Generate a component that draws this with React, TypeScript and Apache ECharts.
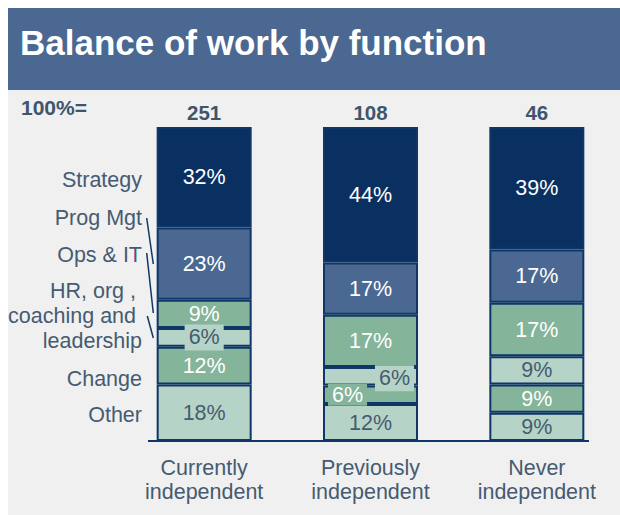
import React, { useEffect, useRef } from "react";
import * as echarts from "echarts";

// ---- data ----
const categories = ["Currently\nindependent", "Previously\nindependent", "Never\nindependent"];
const totals = ["251", "108", "46"];
const functionLabels = ["Strategy", "Prog Mgt", "Ops & IT", "HR, org , \ncoaching and \nleadership", "Change", "Other"];
const strategy = [32, 44, 39];
const progMgt = [23, 17, 17];
const opsIT = [9, 17, 17];
const hrOrg = [6, 6, 9];
const change = [12, 6, 9];
const other = [18, 12, 9];

// ---- styles ----
const FONT = '"Liberation Sans", Arial, Helvetica, sans-serif';
const NAVY = "#0a3062";
const BLUE = "#4b6893";
const GREEN = "#84b49a";
const LIGHT = "#b6d3c7";
const BORDER = "#0e3767";
const TEXT = "#465b70";
const BG = "#f0f0f0";
const FS = 21.5;

const seriesDefs = [
  { name: "Other", values: other, color: LIGHT, text: TEXT },
  { name: "Change", values: change, color: GREEN, text: "#ffffff" },
  { name: "HR", values: hrOrg, color: LIGHT, text: TEXT },
  { name: "Ops & IT", values: opsIT, color: GREEN, text: "#ffffff" },
  { name: "Prog Mgt", values: progMgt, color: BLUE, text: "#ffffff" },
  { name: "Strategy", values: strategy, color: NAVY, text: "#ffffff" },
];

// label tweaks (position/style only)
const labelOverrides: Record<string, any> = {
  "HR-0": { backgroundColor: LIGHT, padding: [2, 4] },
  "HR-1": { backgroundColor: LIGHT, padding: [2, 4], offset: [24, 2] },
  "Change-1": { backgroundColor: GREEN, padding: [0, 4], offset: [-23, 0] },
};

// left label layout (chart coords)
const leftLabelY = [172, 210, 247, 308, 371, 407];
const leaderLines = [
  [138.7, 210, 145.3, 256],
  [138.7, 245, 145.3, 305],
  [139.3, 308, 145.3, 330],
];

export default function App() {
  const ref = useRef<HTMLDivElement>(null);

  useEffect(() => {
    if (!ref.current) return;
    const chart = echarts.init(ref.current, undefined, { renderer: "svg" });

    const colSums = categories.map((_, i) =>
      seriesDefs.reduce((s, d) => s + d.values[i], 0)
    );

    const series = seriesDefs.map((d) => ({
      name: d.name,
      type: "bar",
      stack: "total",
      barWidth: 95,
      itemStyle: { color: d.color, borderColor: BORDER, borderWidth: 2 },
      label: {
        show: true,
        position: "inside",
        color: d.text,
        fontSize: FS,
        lineHeight: 22,
        fontFamily: FONT,
        formatter: (p: any) => d.values[p.dataIndex] + "%",
      },
      emphasis: { disabled: true },
      data: d.values.map((v, i) => {
        const item: any = { value: (v / colSums[i]) * 100 };
        const ov = labelOverrides[d.name + "-" + i];
        if (ov) item.label = ov;
        return item;
      }),
    }));

    const graphic: any[] = [
      { type: "rect", shape: { x: 0, y: 0, width: 612, height: 82 }, style: { fill: "#4a6891" }, z: 0 },
      {
        type: "text",
        x: 12,
        y: 34,
        style: {
          text: "Balance of work by function",
          fill: "#ffffff",
          fontSize: 35,
          fontWeight: "bold",
          fontFamily: FONT,
          verticalAlign: "middle",
        },
      },
      {
        type: "text",
        x: 13,
        y: 99.5,
        style: {
          text: "100%=",
          fill: "#3f556b",
          fontSize: 21,
          fontWeight: "bold",
          fontFamily: FONT,
          verticalAlign: "middle",
        },
      },
      {
        type: "line",
        shape: { x1: 140, y1: 433, x2: 581, y2: 433 },
        style: { stroke: BORDER, lineWidth: 2 },
        z: 10,
      },
    ];

    functionLabels.forEach((t, i) => {
      graphic.push({
        type: "text",
        x: 134,
        y: leftLabelY[i],
        style: {
          text: t,
          fill: TEXT,
          fontSize: FS,
          lineHeight: 25,
          fontFamily: FONT,
          align: "right",
          verticalAlign: "middle",
        },
      });
    });

    leaderLines.forEach(([x1, y1, x2, y2]) => {
      graphic.push({
        type: "line",
        shape: { x1, y1, x2, y2 },
        style: { stroke: BORDER, lineWidth: 1.5 },
      });
    });

    chart.setOption({
      animation: false,
      backgroundColor: BG,
      grid: { left: 113, top: 119, width: 503, height: 314, containLabel: false },
      xAxis: [
        {
          type: "category",
          data: categories,
          position: "bottom",
          axisLine: { show: false },
          axisTick: { show: false },
          axisLabel: {
            color: TEXT,
            fontSize: FS,
            lineHeight: 24,
            fontFamily: FONT,
            margin: 15,
            interval: 0,
          },
        },
        {
          type: "category",
          data: totals,
          position: "top",
          axisLine: { show: false },
          axisTick: { show: false },
          axisLabel: {
            color: "#3f556b",
            fontSize: 20.5,
            fontWeight: "bold",
            lineHeight: 24,
            fontFamily: FONT,
            margin: 3,
            interval: 0,
          },
        },
      ],
      yAxis: { type: "value", min: 0, max: 100, show: false, splitLine: { show: false } },
      series,
      graphic,
    });

    return () => chart.dispose();
  }, []);

  return (
    <div
      ref={ref}
      style={{ position: "absolute", left: 8, top: 8, width: 612, height: 507 }}
    />
  );
}
